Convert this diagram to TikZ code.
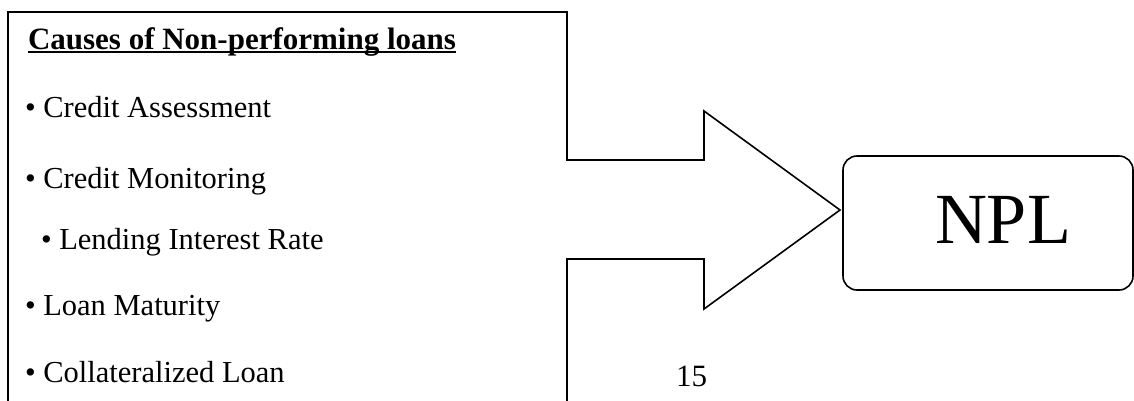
\documentclass[tikz,border=0pt]{standalone}
\usepackage{fontspec}
\setmainfont{Liberation Serif}
\begin{document}
\begin{tikzpicture}[x=1pt,y=-1pt,
  outline/.style={line width=1.6pt, draw=black, line join=miter},
  txt/.style={inner sep=0pt, outer sep=0pt, anchor=base west, font=\fontsize{30.5}{36}\selectfont},
  headtxt/.style={inner sep=0pt, outer sep=0pt, anchor=base west, font=\fontsize{31}{36}\selectfont\bfseries},
  nplbox/.style={draw=black, line width=1.6pt, rounded corners=14pt, minimum width=290pt, minimum height=134pt, inner sep=0pt},
  bigtxt/.style={inner sep=0pt, outer sep=0pt, anchor=base, font=\fontsize{72}{80}\selectfont},
]
\useasboundingbox (0,0) rectangle (1134,400);
% left box joined with the block arrow
\draw[outline] (8,403) -- (8,12) -- (567,12) -- (567,160) -- (704,160) -- (704,111)
  -- (840,210) -- (704,309) -- (704,259) -- (567,259) -- (567,403);
% heading
\node[headtxt] (head) at (28,49) {Causes of Non-performing loans};
\draw[line width=1.8pt] ([yshift=-3pt]head.base west) -- ([yshift=-3pt]head.base east);
% bullets
\node[txt] (b1) at (25,117) {• Credit Assessment};
\node[txt] (b2) at (25,188) {• Credit Monitoring};
\node[txt] (b3) at (41,249) {• Lending Interest Rate};
\node[txt] (b4) at (25,315) {• Loan Maturity};
\node[txt] (b5) at (25,382) {• Collateralized Loan};
% NPL box
\node[nplbox] (npl) at (988,223) {};
\node[bigtxt] (npltext) at (1003,243) {NPL};
% page number
\node[txt, font=\fontsize{31}{36}\selectfont] (pg) at (676,386) {15};
\end{tikzpicture}
\end{document}
